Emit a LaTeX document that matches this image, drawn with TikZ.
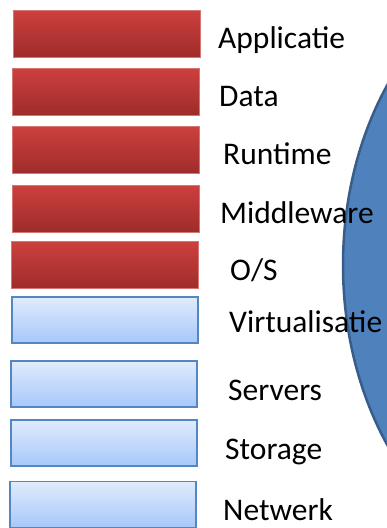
\documentclass[tikz,border=0pt]{standalone}
\usepackage{fontspec}
\setmainfont{Carlito}
\usepackage{tikz}
\usetikzlibrary{shapes.geometric}

\definecolor{redtop}{RGB}{205,64,62}
\definecolor{redbot}{RGB}{158,44,42}
\definecolor{redrim}{RGB}{214,118,114}
\definecolor{bluetop}{RGB}{224,235,252}
\definecolor{bluebot}{RGB}{166,200,250}
\definecolor{bluerim}{RGB}{84,134,194}
\definecolor{cloudfill}{RGB}{79,129,189}
\definecolor{cloudrim}{RGB}{56,93,138}

\tikzset{
  redlayer/.style={draw=redrim, line width=1pt, top color=redtop, bottom color=redbot,
    minimum width=187pt, minimum height=47pt, inner sep=0pt},
  bluelayer/.style={draw=bluerim, line width=1.5pt, top color=bluetop, bottom color=bluebot,
    minimum width=186pt, minimum height=46pt, inner sep=0pt},
  layerlabel/.style={anchor=base west, inner sep=0pt, font=\fontsize{31.5}{37}\selectfont}
}

\begin{document}
\begin{tikzpicture}[x=1pt,y=-1pt]
            \useasboundingbox (0,0) rectangle (387,528);
            \begin{scope}
            \clip (0,0) rectangle (387,528);
            \draw[fill=cloudfill, draw=cloudrim, line width=2.5pt] (573,265) ellipse (230 and 305);
            \end{scope}
            % lagen
            \node[redlayer] at (106.5,33.5) (app) {};
            \node[redlayer] at (105.5,91.5) (data) {};
            \node[redlayer] at (105.5,150) (runtime) {};
            \node[redlayer] at (105.5,208.5) (middleware) {};
            \node[redlayer] at (104.5,265) (os) {};
            \node[bluelayer] at (105,320) (virt) {};
            \node[bluelayer] at (104,384) (servers) {};
            \node[bluelayer] at (104,443) (storage) {};
            \node[bluelayer] at (103,504.5) (netwerk) {};
            % labels
            \node[layerlabel] at (218,48) (appl) {Applicatie};
            \node[layerlabel] at (219,106) (datal) {Data};
            \node[layerlabel] at (223,164) (runtimel) {Runtime};
            \node[layerlabel] at (220,223) (middlewarel) {Middleware};
            \node[layerlabel] at (230,280) (osl) {O/S};
            \node[layerlabel] at (229,332) (virtl) {Virtualisatie};
            \node[layerlabel] at (228,400) (serversl) {Servers};
            \node[layerlabel] at (225,459) (storagel) {Storage};
            \node[layerlabel] at (223,520) (netwerkl) {Netwerk};
        \end{tikzpicture}
\end{document}
